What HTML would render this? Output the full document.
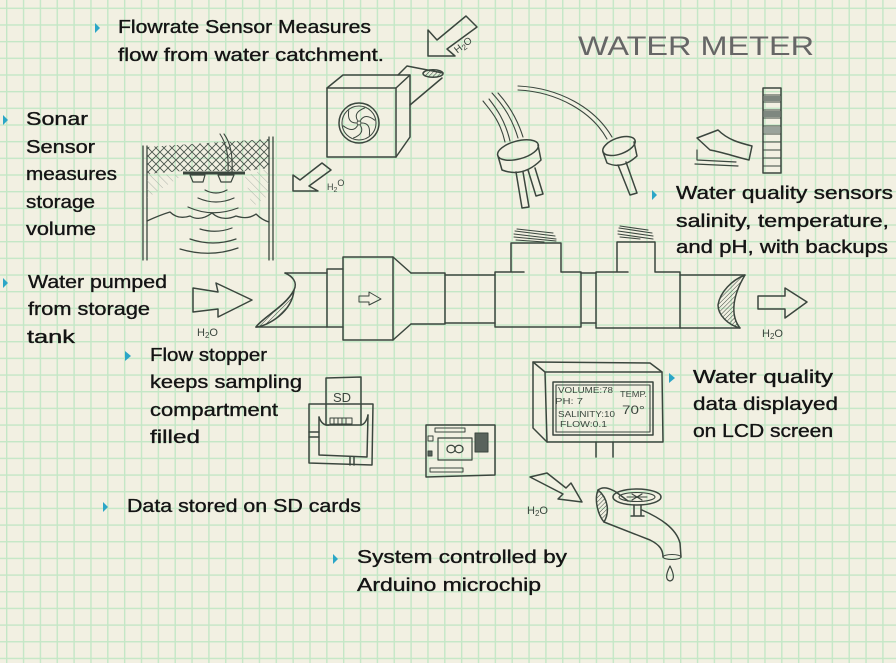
<!DOCTYPE html>
<html><head><meta charset="utf-8">
<style>
html,body{margin:0;padding:0;background:#f2f0e2;}
svg{display:block}
.t{font-family:"Liberation Sans","DejaVu Sans",sans-serif;font-size:18px;fill:#141414;stroke:#141414;stroke-width:0.35;}
.s{font-family:"Liberation Sans","DejaVu Sans",sans-serif;fill:#3b463e;}
</style></head><body>
<svg width="896" height="663" viewBox="0 0 896 663" xmlns="http://www.w3.org/2000/svg">
<defs>
<pattern id="grid" patternUnits="userSpaceOnUse" x="6" y="7.6" width="16.85" height="16.67">
<rect x="0" y="0" width="1.4" height="16.67" fill="#c4e7c6"/>
<rect x="0" y="0" width="16.85" height="1.4" fill="#c4e7c6"/>
</pattern>
<pattern id="hatch" patternUnits="userSpaceOnUse" width="3" height="3" patternTransform="rotate(45)">
<line x1="0" y1="0" x2="0" y2="3" stroke="#3b463e" stroke-width="1"/>
</pattern>
<pattern id="xh" patternUnits="userSpaceOnUse" width="8" height="8">
<path d="M0 0L8 8M8 0L0 8" stroke="#4a554c" stroke-width="0.9"/>
</pattern>
<pattern id="lh" patternUnits="userSpaceOnUse" width="6" height="6" patternTransform="rotate(-45)">
<line x1="0" y1="0" x2="0" y2="6" stroke="#9aa39b" stroke-width="0.8"/>
</pattern>
</defs>
<rect width="896" height="663" fill="#f2f0e2"/>
<rect width="896" height="663" fill="url(#grid)"/>

<!-- Title -->
<text x="578" y="55" font-family="Liberation Sans, DejaVu Sans, sans-serif" font-size="27" fill="#666" textLength="236" lengthAdjust="spacingAndGlyphs">WATER METER</text>

<g fill="none" stroke="#3b463e" stroke-width="1.5" stroke-linecap="round" stroke-linejoin="round">
<!-- Flow sensor cube -->
<path d="M327,88 L396,88 L396,157 L327,157 Z"/>
<path d="M327,88 L343,75 L410,75 L410,137 L396,157"/>
<path d="M396,88 L410,75"/>
<path d="M398,75 L407,66 L443,73"/>
<path d="M410,105 L442,78"/>
<ellipse cx="433" cy="73.5" rx="10" ry="3.8" fill="url(#hatch)"/>
<circle cx="359" cy="123" r="20"/>
<circle cx="359" cy="123" r="17" stroke-width="1"/>
<circle cx="359" cy="123" r="2" stroke-width="1"/>
<g stroke-width="1">
<path d="M362,123 Q371,123 369.3,135.3"/>
<path d="M360.5,125.6 Q365,133.4 353.5,138"/>
<path d="M357.5,125.6 Q353,133.4 343.2,125.8"/>
<path d="M356,123 Q347,123 348.7,110.7"/>
<path d="M357.5,120.4 Q353,112.6 364.5,108"/>
<path d="M360.5,120.4 Q365,112.6 374.8,120.2"/>
</g>
<!-- arrow below cube -->
<path d="M293,191 L293,175 L300,180 L322,163 L331,170 L309,186 L318,191 Z"/>
<!-- arrow top -->
<path d="M428,56 L428,30 L437,40 L466,16 L477,27 L447,49 L455,56 Z"/>

<!-- Sonar tank -->
<path d="M143,146 L143,260 M147,146 L147,260 M269,137 L269,260 M273,137 L273,260" stroke-width="1.3"/>
<path d="M147,147 L269,139 L269,168 L245,171 L183,171 L147,174 Z" fill="url(#xh)" stroke="none"/>
<path d="M147,174 L183,175 L147,198 Z" fill="url(#lh)" stroke="none"/>
<path d="M269,168 L245,176 L252,207 L269,195 Z" fill="url(#lh)" stroke="none"/>
<rect x="183" y="171.5" width="62" height="3" fill="#3b463e" stroke="none"/>
<path d="M190,175 L205,175 L203,182 L193,182 Z" stroke-width="1.2"/>
<path d="M218,175 L234,175 L231,182 L221,182 Z" stroke-width="1.2"/>
<path d="M228,172 C229,155 226,143 220,134 M232,172 C233,155 230,142 224,134" stroke-width="1.1"/>
<path d="M205,190 Q216,196 227,190 M198,198 Q216,206 234,198" stroke-width="1.2"/>
<path d="M188,207 Q212,218 238,208" stroke-width="1.2"/>
<path d="M147,221 Q160,215 170,212 Q178,220 190,216 Q200,222 212,213 Q222,222 236,216 Q248,220 256,214 Q262,220 269,222" stroke-width="1.3"/>
<path d="M200,229 Q216,234 232,228 M190,239 Q213,247 236,239 M180,249 Q210,258 238,248" stroke-width="1.2"/>

<!-- Main pipe -->
<path d="M285,273 L327,273 M256,327 L327,327"/>
<path d="M285,273 C292,276 298,282 294,290 C286,306 262,318 256,327"/>
<path d="M256,327 C268,326 292,312 294,290 C286,306 262,318 256,327 Z" fill="url(#hatch)"/>
<path d="M327,269 L343,269 M327,327 L343,327 M327,269 L327,327"/>
<path d="M343,257 L393,257 L393,340 L343,340 Z"/>
<path d="M359,296 L369,296 L369,292 L381,299 L369,305 L369,302 L359,302 Z" stroke-width="1"/>
<path d="M393,257 L411,273 M393,340 L411,324"/>
<path d="M411,273 L445,273 L445,324 L411,324"/>
<path d="M445,275 L495,275 M445,323 L495,323"/>
<path d="M495,327 L495,272 L524,272 M511,272 L511,243 L561,243 L561,272 L581,272 L581,327 L495,327"/>
<path d="M581,273 L596,273 M581,323 L596,323"/>
<path d="M596,328 L596,272 L628,272 M617,272 L617,242 L655,242 L655,272 L680,272 L680,328 L596,328"/>
<path d="M680,275 L745,275 M680,328 L740,328"/>
<path d="M745,275 C732,280 720,292 718,305 C718,315 728,325 740,328 C732,318 730,300 745,275 Z" fill="url(#hatch)"/>
<g stroke-width="1.1">
<path d="M515,231 L555,236 M514,234 L556,239 M514,237 L556,241 M517,229 L553,233 M516,240 L544,242"/>
<path d="M619,228 L652,233 M618,231 L653,236 M618,234 L653,239 M620,226 L648,230 M620,237 L640,239"/>
</g>
<!-- pipe arrows -->
<path d="M193,288 L218,292 L216,283 L252,300 L218,317 L218,309 L193,312 Z"/>
<path d="M758,296 L785,296 L785,288 L807,302 L785,318 L785,309 L758,309 Z"/>

<!-- Probe 1 -->
<path d="M483,101 C490,110 500,120 505,142 M489,99 C496,108 505,120 510,141 M492,93 C503,105 512,118 518,138 M498,93 C508,104 517,118 523,137" stroke-width="1.1"/>
<ellipse cx="518" cy="150" rx="21" ry="9" transform="rotate(-15 518 150)"/>
<path d="M498,156 L502,170 Q523,178 541,160 L538,145"/>
<path d="M516,172 L522,208 L529,207 L523,172 M528,170 L536,196 L543,194 L535,168"/>
<!-- Probe 2 -->
<path d="M518,86 C560,88 595,108 612,137 M518,90 C558,92 592,112 607,139" stroke-width="1.1"/>
<ellipse cx="619" cy="146" rx="17" ry="8" transform="rotate(-20 619 146)"/>
<path d="M603,152 L607,163 Q622,170 637,156 L634,142"/>
<path d="M618,165 L630,195 L637,193 L626,162"/>

<!-- pH strip -->
<rect x="763" y="88" width="18" height="85"/>
<path d="M763,95 L781,95 M763,102 L781,102 M763,110 L781,110 M763,118 L781,118 M763,126 L781,126 M763,134 L781,134 M763,142 L781,142 M763,150 L781,150 M763,158 L781,158 M763,166 L781,166" stroke-width="1"/>
<rect x="764" y="96" width="16" height="5" fill="#7e877f" stroke="none"/>
<rect x="764" y="111" width="16" height="6" fill="#7e877f" stroke="none"/>
<rect x="764" y="127" width="16" height="6" fill="#9aa39b" stroke="none"/>
<path d="M697,138 L718,130 C728,140 740,143 752,146 L749,160 C736,157 722,152 710,150 Z"/>
<path d="M697,150 L697,160 L736,162 M695,164 L738,166" stroke-width="1.2"/>

<!-- SD module -->
<path d="M309,404 L373,404 L372,465 L309,463 Z"/>
<path d="M319,417 L319,455 L367,457 L368,415"/>
<path d="M319,417 Q322,426 329,425 M361,425 Q366,424 368,415"/>
<path d="M326,425 L326,378 L361,377 L361,425 L326,425"/>
<rect x="330" y="418" width="22" height="6" stroke-width="1"/>
<path d="M334,418 L334,424 M338,418 L338,424 M342,418 L342,424 M346,418 L346,424" stroke-width="1"/>
<path d="M309,432 L319,432 M309,437 L319,437"/>
<path d="M350,457 L350,465 M354,457 L354,465"/>

<!-- Arduino -->
<path d="M426,425 L495,425 L495,475 L426,477 Z"/>
<rect x="435" y="428" width="30" height="4" stroke-width="1"/>
<rect x="430" y="468" width="33" height="4" stroke-width="1"/>
<rect x="438" y="438" width="34" height="22" stroke-width="1.2"/>
<path d="M447,449 C447,444 455,444 455,449 C455,454 463,454 463,449 C463,444 455,444 455,449 C455,454 447,454 447,449 Z" stroke-width="1.2"/>
<rect x="475" y="433" width="13" height="19" fill="#59635c" stroke-width="1"/>
<rect x="428" y="436" width="5" height="5" stroke-width="1"/>
<rect x="428" y="451" width="4" height="5" fill="#59635c" stroke-width="1"/>

<!-- LCD -->
<path d="M533,362 L650,363 L662,372 L663,442 L547,442 L533,428 Z"/>
<path d="M545,372 L662,372 M545,372 L547,442 M533,362 L545,372"/>
<rect x="553" y="382" width="100" height="53"/>
<rect x="556" y="385" width="94" height="47" stroke-width="1.1"/>
<path d="M596,442 L596,457 M613,442 L613,457"/>

<!-- Faucet -->
<path d="M530,477 L547,473 L566,488 L571,483 L582,502 L558,499 L563,494 Z"/>
<path d="M598,490 C603,486 609,488 616,492 L628,501"/>
<path d="M642,510 C660,518 676,528 680,543 L681,557"/>
<path d="M604,522 L650,540 C660,545 663,550 663,557"/>
<ellipse cx="672" cy="557" rx="9" ry="2.5" stroke-width="1.1"/>
<path d="M598,490 C594,500 598,515 604,522 C610,512 608,498 598,490 Z" fill="url(#hatch)"/>
<ellipse cx="637" cy="497" rx="24" ry="8"/>
<ellipse cx="637" cy="497" rx="18" ry="4.5" stroke-width="1.1"/>
<path d="M627,497 L647,497 M632,494 L642,500 M642,494 L632,500" stroke-width="1.1"/>
<path d="M634,505 L634,516 M641,505 L641,516 M631,516 L644,516"/>
<path d="M670,566 C666,574 665,580 670,581 C675,580 674,574 670,566 Z" stroke-width="1.2"/>
</g>

<!-- small labels -->
<text class="s" x="333" y="402" font-size="13">SD</text>
<text class="s" x="327" y="190" font-size="9">H<tspan font-size="7" dy="2">2</tspan><tspan dy="-6">O</tspan></text>
<text class="s" x="452" y="50" font-size="10" transform="rotate(-38 460 44)">H<tspan font-size="8" dy="2">2</tspan><tspan dy="-2">O</tspan></text>
<text class="s" x="197" y="336" font-size="11">H<tspan font-size="8" dy="2">2</tspan><tspan dy="-2">O</tspan></text>
<text class="s" x="762" y="337" font-size="11">H<tspan font-size="8" dy="2">2</tspan><tspan dy="-2">O</tspan></text>
<text class="s" x="527" y="514" font-size="11">H<tspan font-size="8" dy="2">2</tspan><tspan dy="-2">O</tspan></text>
<g class="s" font-size="8">
<text x="558" y="393" textLength="55" lengthAdjust="spacingAndGlyphs">VOLUME:78</text>
<text x="620" y="397" textLength="27" lengthAdjust="spacingAndGlyphs">TEMP.</text>
<text x="555" y="404" textLength="28" lengthAdjust="spacingAndGlyphs">PH: 7</text>
<text x="622" y="414" font-size="12" textLength="23" lengthAdjust="spacingAndGlyphs">70°</text>
<text x="558" y="417" textLength="57" lengthAdjust="spacingAndGlyphs">SALINITY:10</text>
<text x="560" y="427" textLength="47" lengthAdjust="spacingAndGlyphs">FLOW:0.1</text>
</g>

<!-- Bullets -->
<g fill="#2ba6c7">
<polygon points="95,23 100,28 95,33"/>
<polygon points="3,115 8,120 3,125"/>
<polygon points="3,278 8,283 3,288"/>
<polygon points="125,351 131,356 125,361"/>
<polygon points="103,502 108,507 103,512"/>
<polygon points="333,554 338,559 333,564"/>
<polygon points="652,190 657,195 652,200"/>
<polygon points="669,373 675,378 669,383"/>
</g>

<!-- Text -->
<g class="t">
<text x="118" y="33" textLength="253" lengthAdjust="spacingAndGlyphs">Flowrate Sensor Measures</text>
<text x="118" y="61" textLength="266" lengthAdjust="spacingAndGlyphs">flow from water catchment.</text>
<text x="26" y="125" textLength="62" lengthAdjust="spacingAndGlyphs">Sonar</text>
<text x="26" y="153" textLength="69" lengthAdjust="spacingAndGlyphs">Sensor</text>
<text x="26" y="180" textLength="91" lengthAdjust="spacingAndGlyphs">measures</text>
<text x="26" y="208" textLength="69" lengthAdjust="spacingAndGlyphs">storage</text>
<text x="26" y="235" textLength="70" lengthAdjust="spacingAndGlyphs">volume</text>
<text x="28" y="288" textLength="139" lengthAdjust="spacingAndGlyphs">Water pumped</text>
<text x="28" y="315" textLength="122" lengthAdjust="spacingAndGlyphs">from storage</text>
<text x="27" y="343" textLength="48" lengthAdjust="spacingAndGlyphs">tank</text>
<text x="150" y="361" textLength="117" lengthAdjust="spacingAndGlyphs">Flow stopper</text>
<text x="150" y="388" textLength="152" lengthAdjust="spacingAndGlyphs">keeps sampling</text>
<text x="150" y="416" textLength="128" lengthAdjust="spacingAndGlyphs">compartment</text>
<text x="150" y="443" textLength="50" lengthAdjust="spacingAndGlyphs">filled</text>
<text x="127" y="512" textLength="234" lengthAdjust="spacingAndGlyphs">Data stored on SD cards</text>
<text x="357" y="563" textLength="210" lengthAdjust="spacingAndGlyphs">System controlled by</text>
<text x="357" y="591" textLength="184" lengthAdjust="spacingAndGlyphs">Arduino microchip</text>
<text x="676" y="199" textLength="217" lengthAdjust="spacingAndGlyphs">Water quality sensors</text>
<text x="676" y="227" textLength="213" lengthAdjust="spacingAndGlyphs">salinity, temperature,</text>
<text x="676" y="253" textLength="212" lengthAdjust="spacingAndGlyphs">and pH, with backups</text>
<text x="693" y="383" textLength="140" lengthAdjust="spacingAndGlyphs">Water quality</text>
<text x="693" y="410" textLength="145" lengthAdjust="spacingAndGlyphs">data displayed</text>
<text x="693" y="437" textLength="140" lengthAdjust="spacingAndGlyphs">on LCD screen</text>
</g>
</svg>
</body></html>
